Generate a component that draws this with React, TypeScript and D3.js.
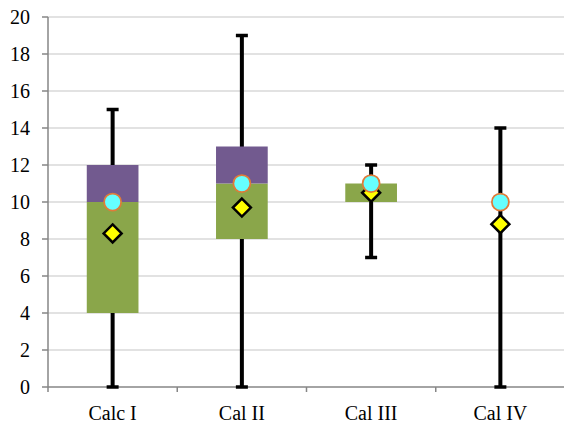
import React from "react";
import * as d3 from "d3";

const categories = ["Calc I", "Cal II", "Cal III", "Cal IV"];
const whiskerLow = [0, 0, 7, 0];
const whiskerHigh = [15, 19, 12, 14];
const boxLow = [4, 8, 10, 10];
const boxMid = [10, 11, 11, 10];
const boxHigh = [12, 13, 11, 10];
const circleValues = [10, 11, 11, 10];
const diamondValues = [8.3, 9.7, 10.5, 8.8];
const yTicks = [0, 2, 4, 6, 8, 10, 12, 14, 16, 18, 20];

const W = 564;
const H = 426;
const left = 48;
const right = 565;
const top = 17;
const bottom = 387;

export default function App() {
  const x = d3.scaleBand<string>().domain(categories).range([left, right]).padding(0);
  const y = d3.scaleLinear().domain([0, 20]).range([bottom, top]);
  const bw = x.bandwidth();
  const boxW = bw * 0.4;
  const font = "'Liberation Serif', 'Times New Roman', serif";
  const green = "#8AA64A";
  const purple = "#725A8F";

  return (
    <svg width={W} height={H} style={{ position: "absolute", left: 0, top: 0, background: "#fff" }}>
      {yTicks.map((t) => (
        <g key={t}>
          {t > 0 && <line x1={left} x2={W} y1={y(t)} y2={y(t)} stroke="#d9d9d9" strokeWidth={1.5} />}
          <line x1={42} x2={left} y1={y(t)} y2={y(t)} stroke="#868686" strokeWidth={1.5} />
          <text x={30} y={y(t)} dy="0.35em" textAnchor="end" fontFamily={font} fontSize={20} fill="#000">
            {t}
          </text>
        </g>
      ))}
      <line x1={left} x2={left} y1={top} y2={bottom} stroke="#868686" strokeWidth={1.5} />
      <line x1={left} x2={W} y1={bottom} y2={bottom} stroke="#868686" strokeWidth={1.5} />
      {categories.map((c, i) => (
        <line key={"t" + i} x1={x(c)!} x2={x(c)!} y1={bottom} y2={bottom + 5} stroke="#868686" strokeWidth={1.5} />
      ))}
      <line x1={x(categories[3])! + bw} x2={x(categories[3])! + bw} y1={bottom} y2={bottom + 5} stroke="#868686" strokeWidth={1.5} />
      {categories.map((c, i) => {
        const cx = x(c)! + bw / 2;
        return (
          <g key={c}>
            <line x1={cx} x2={cx} y1={y(whiskerLow[i])} y2={y(whiskerHigh[i])} stroke="#000" strokeWidth={4} />
            <line x1={cx - 6} x2={cx + 6} y1={y(whiskerLow[i])} y2={y(whiskerLow[i])} stroke="#000" strokeWidth={3.5} />
            <line x1={cx - 6} x2={cx + 6} y1={y(whiskerHigh[i])} y2={y(whiskerHigh[i])} stroke="#000" strokeWidth={3.5} />
            {boxMid[i] > boxLow[i] && (
              <rect x={cx - boxW / 2} width={boxW} y={y(boxMid[i])} height={y(boxLow[i]) - y(boxMid[i])} fill={green} />
            )}
            {boxHigh[i] > boxMid[i] && (
              <rect x={cx - boxW / 2} width={boxW} y={y(boxHigh[i])} height={y(boxMid[i]) - y(boxHigh[i])} fill={purple} />
            )}
            <path
              d={`M${cx},${y(diamondValues[i]) - 9}L${cx + 9},${y(diamondValues[i])}L${cx},${y(diamondValues[i]) + 9}L${cx - 9},${y(diamondValues[i])}Z`}
              fill="#FFFF00"
              stroke="#000"
              strokeWidth={2.5}
              strokeLinejoin="miter"
            />
            <circle cx={cx} cy={y(circleValues[i])} r={8.5} fill="#66FFFF" stroke="#E07B39" strokeWidth={1.75} />
            <text x={cx} y={420} textAnchor="middle" fontFamily={font} fontSize={20} fill="#000">
              {c}
            </text>
          </g>
        );
      })}
    </svg>
  );
}
